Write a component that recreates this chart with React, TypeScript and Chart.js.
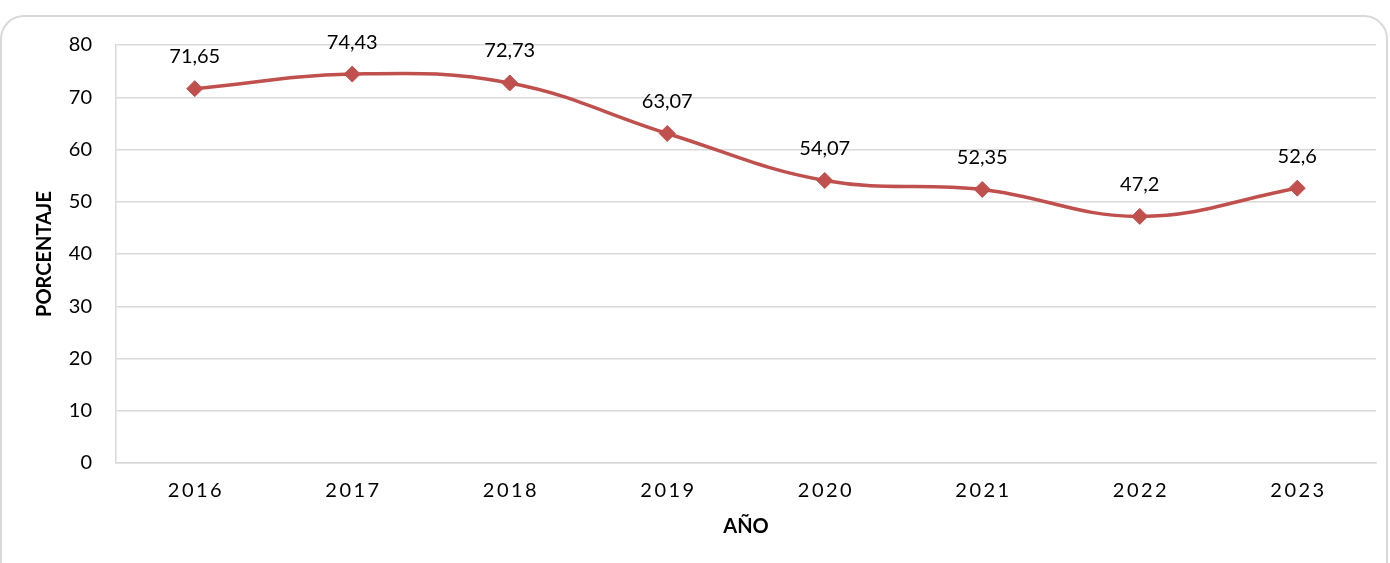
import React, { useEffect, useRef } from "react";
import { Chart, registerables } from "chart.js";

Chart.register(...registerables);

const years: string[] = ["2016", "2017", "2018", "2019", "2020", "2021", "2022", "2023"];
const percentages: number[] = [71.65, 74.43, 72.73, 63.07, 54.07, 52.35, 47.2, 52.6];
const yMin = 0;
const yMax = 80;
const yStep = 10;
const xTitle = "AÑO";
const yTitle = "PORCENTAJE";

const FONT = "Lato, 'Liberation Sans', sans-serif";
const LINE_COLOR = "#C0504D";

const fmt = (v: number) => String(v).replace(".", ",");

const valueLabels = {
  id: "valueLabels",
  afterDatasetsDraw(chart: any) {
    const ctx = chart.ctx as CanvasRenderingContext2D;
    const meta = chart.getDatasetMeta(0);
    ctx.save();
    ctx.font = `20px ${FONT}`;
    ctx.fillStyle = "#000";
    ctx.textAlign = "center";
    ctx.textBaseline = "middle";
    meta.data.forEach((pt: any, i: number) => {
      ctx.fillText(fmt(percentages[i]), pt.x, pt.y - 32);
    });
    ctx.restore();
  },
};

export default function App() {
  const ref = useRef<HTMLCanvasElement | null>(null);

  useEffect(() => {
    if (!ref.current) return;
    const chart = new Chart(ref.current, {
      type: "line",
      data: {
        labels: years,
        datasets: [
          {
            data: percentages,
            borderColor: LINE_COLOR,
            backgroundColor: LINE_COLOR,
            borderWidth: 3.5,
            tension: 0.4,
            pointStyle: "rectRot",
            pointRadius: 8,
            pointBorderWidth: 1,
            pointBorderColor: LINE_COLOR,
            pointBackgroundColor: LINE_COLOR,
            fill: false,
          },
        ],
      },
      options: {
        responsive: false,
        animation: false,
        layout: { padding: { top: 45, right: 14, left: 0, bottom: 0 } },
        plugins: {
          legend: { display: false },
          tooltip: { enabled: false },
        },
        scales: {
          x: {
            offset: true,
            grid: { display: false, drawTicks: false },
            border: { display: true, color: "#d9d9d9", width: 1.5 },
            ticks: {
              padding: 16,
              color: "#000",
              font: { family: FONT, size: 20 },
              maxRotation: 0,
              callback: (_v: any, i: number) => years[i].split("").join("\u2009"),
            },
            title: {
              display: true,
              text: xTitle,
              color: "#000",
              font: { family: FONT, size: 20, weight: "bold" },
              padding: { top: 0, bottom: 24 },
            },
            afterFit: (scale: any) => {
              scale.height = 100;
            },
          },
          y: {
            min: yMin,
            max: yMax,
            grid: { color: "#d9d9d9", lineWidth: 1.5, drawTicks: false },
            border: { display: true, color: "#d9d9d9", width: 1.5 },
            ticks: {
              stepSize: yStep,
              padding: 24,
              color: "#000",
              font: { family: FONT, size: 20 },
            },
            title: {
              display: true,
              text: yTitle,
              color: "#000",
              font: { family: FONT, size: 20, weight: "bold" },
              padding: { top: 33, bottom: 0 },
            },
            afterFit: (scale: any) => {
              scale.width = 116;
            },
          },
        },
      },
      plugins: [valueLabels],
    });
    return () => chart.destroy();
  }, []);

  return (
    <div style={{ position: "absolute", left: 0, top: 0, width: 1390, height: 563, overflow: "hidden", background: "#fff" }}>
      <div
        style={{
          position: "absolute",
          left: 0,
          top: 15,
          width: 1388,
          height: 570,
          boxSizing: "border-box",
          border: "2px solid #d9d9d9",
          borderRadius: 24,
        }}
      />
      <canvas ref={ref} width={1390} height={563} style={{ position: "absolute", left: 0, top: 0, width: 1390, height: 563 }} />
    </div>
  );
}
